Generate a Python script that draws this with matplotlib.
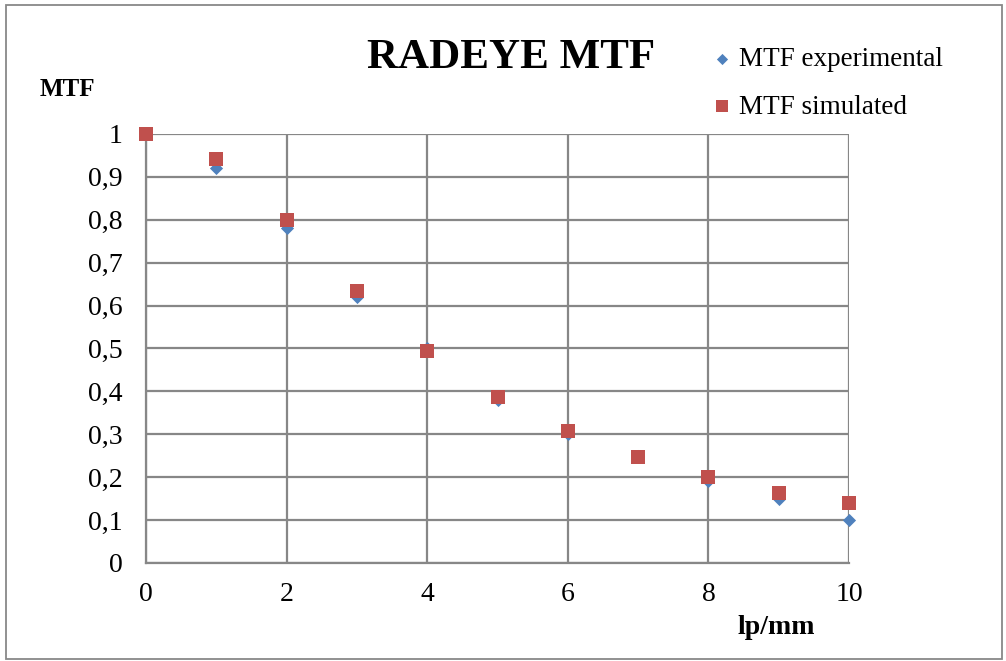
import matplotlib
matplotlib.use("Agg")
import matplotlib.pyplot as plt
from matplotlib.ticker import FuncFormatter, MultipleLocator
from matplotlib.patches import Rectangle

lp_mm = [0, 1, 2, 3, 4, 5, 6, 7, 8, 9, 10]
mtf_experimental = [1.0, 0.92, 0.78, 0.62, 0.50, 0.38, 0.30, 0.25, 0.19, 0.15, 0.10]
mtf_simulated = [1.0, 0.942, 0.80, 0.635, 0.495, 0.387, 0.307, 0.247, 0.20, 0.164, 0.14]

plt.rcParams['font.family'] = ['Liberation Serif', 'DejaVu Serif']

fig = plt.figure(figsize=(10.06, 6.61), dpi=100)
ax = fig.add_axes([0.1451, 0.1483, 0.844 - 0.1451, 0.7973 - 0.1483])

grid_c = '#878787'
ax.scatter(lp_mm, mtf_experimental, marker='D', s=45, color='#4F81BD', zorder=3,
           label='MTF experimental', clip_on=False, linewidths=0)
ax.scatter(lp_mm, mtf_simulated, marker='s', s=95, color='#C0504D', zorder=4,
           label='MTF simulated', clip_on=False, linewidths=0)

ax.set_xlim(0, 10)
ax.set_ylim(0, 1)
ax.xaxis.set_major_locator(MultipleLocator(2))
ax.yaxis.set_major_locator(MultipleLocator(0.1))
fmt = FuncFormatter(lambda v, p: ('%g' % round(v, 1)).replace('.', ','))
ax.xaxis.set_major_formatter(fmt)
ax.yaxis.set_major_formatter(fmt)
ax.grid(True, color=grid_c, linewidth=1.6, zorder=0)
ax.set_axisbelow(True)
for s in ['top', 'right']:
    ax.spines[s].set_visible(False)
for s in ['left', 'bottom']:
    ax.spines[s].set_color(grid_c)
    ax.spines[s].set_linewidth(1.6)
ax.tick_params(length=0, labelsize=20)
ax.tick_params(axis='x', pad=14)
ax.tick_params(axis='y', pad=17)

fig.text(0.508, 0.913, 'RADEYE MTF', ha='center', va='center', fontsize=31, fontweight='bold')
fig.text(0.067, 0.864, 'MTF', ha='center', va='center', fontsize=18, fontweight='bold')
fig.text(0.772, 0.051, 'lp/mm', ha='center', va='center', fontsize=20, fontweight='bold')

leg = fig.legend(loc='upper left', bbox_to_anchor=(0.687, 0.957),
                 frameon=False, fontsize=19.5, handletextpad=0.15, labelspacing=0.82,
                 handlelength=0.9, markerscale=0.85, borderpad=0.2)

fig.add_artist(Rectangle((0.006, 0.003), 0.99, 0.99, transform=fig.transFigure,
                         fill=False, edgecolor='#888888', linewidth=1.3))

fig.savefig('out.png', dpi=100)
